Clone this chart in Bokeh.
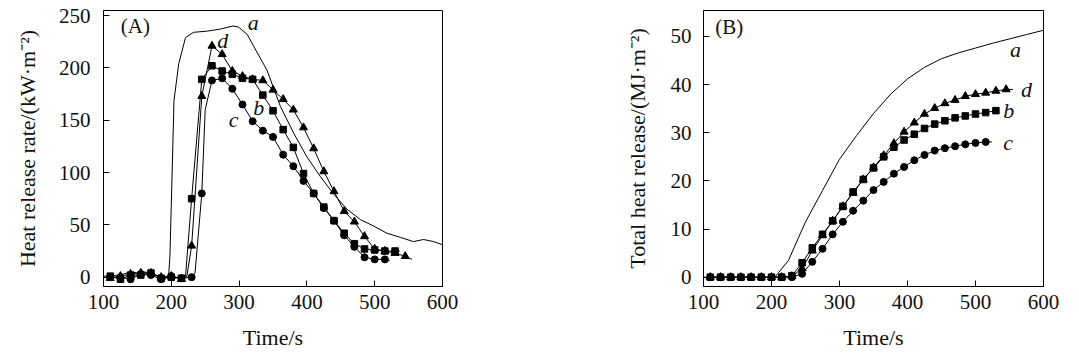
from bokeh.plotting import figure
from bokeh.layouts import row
from bokeh.models import FixedTicker, Range1d
from bokeh.core.properties import value
from bokeh.embed import file_html
from bokeh.resources import INLINE

FONT = "Liberation Serif"

# ---------------- Panel A: heat release rate (kW/m2) ----------------
hrr_a_t = [100, 110, 120, 130, 140, 150, 160, 170, 180, 190, 196, 198, 204, 211, 221, 233, 252, 272, 291, 299,
           312, 322, 341, 361, 381, 400, 420, 440, 459, 479, 498, 518, 538, 557, 572, 587, 600]
hrr_a_v = [1, 1, 2, 3, 5, 4, 5, 4, 1, 0, 1, 20, 169, 204, 229, 234, 235, 237, 240, 239,
           232, 220, 198, 163, 137, 115, 96, 79, 65, 55, 49, 42, 38, 34, 36, 34, 31]

hrr_b_t = [110, 125, 140, 155, 170, 185, 200, 215, 221, 230, 245, 260, 275, 290, 305, 320, 335, 350, 365, 380,
           395, 410, 425, 440, 455, 470, 485, 500, 515, 530, 537]
hrr_b_v = [1, -2, 2, 2, 4, -1, 0, -1, 1, 75, 189, 202, 197, 194, 190, 189, 174, 159, 141, 124,
           99, 80, 67, 54, 42, 32, 27, 26, 25, 25, 25]

hrr_c_t = [110, 125, 140, 155, 170, 185, 200, 215, 230, 235, 245, 250, 260, 275, 290, 305, 320, 335, 350, 365,
           380, 395, 410, 425, 440, 455, 470, 485, 500, 515, 522]
hrr_c_v = [0, 0, -2, 3, 2, -2, 1, -1, 0, 4, 80, 160, 188, 190, 180, 165, 149, 140, 134, 117,
           106, 92, 80, 66, 54, 40, 29, 19, 17, 17, 16]

hrr_d_t = [110, 125, 140, 155, 170, 185, 200, 215, 223, 230, 245, 260, 275, 290, 305, 320, 335, 350, 365, 380,
           395, 410, 425, 440, 455, 470, 485, 500, 515, 530, 545, 555]
hrr_d_v = [-1, 1, 3, 4, 4, 0, 1, -2, 1, 30, 173, 221, 213, 197, 192, 189, 188, 179, 170, 160,
           143, 123, 101, 82, 63, 53, 39, 27, 25, 23, 20, 17]

# ---------------- Panel B: total heat release (MJ/m2) ----------------
thr_a_t = [100, 205, 225, 250, 275, 300, 325, 350, 375, 400, 425, 450, 475, 500, 525, 550, 575, 600]
thr_a_v = [0, 0, 3.5, 11.5, 18, 24.5, 29.4, 34, 38, 41.2, 43.6, 45.4, 46.6, 47.6, 48.6, 49.5, 50.4, 51.3]

thr_b_t = [110, 125, 140, 155, 170, 185, 200, 215, 230, 245, 260, 275, 290, 305, 320, 335, 350, 365, 380,
           395, 410, 425, 440, 455, 470, 485, 500, 515, 530]
thr_b_v = [0, 0, 0, 0, 0, 0, 0, 0, 0.3, 3, 6.1, 8.9, 11.7, 14.7, 17.7, 20.3, 22.7, 25, 27,
           28.5, 29.7, 30.9, 31.8, 32.5, 33.1, 33.5, 33.9, 34.2, 34.6]

thr_c_t = [110, 125, 140, 155, 170, 185, 200, 215, 230, 245, 260, 275, 290, 305, 320, 335, 350, 365, 380,
           395, 410, 425, 440, 455, 470, 485, 500, 515, 524]
thr_c_v = [0, 0, 0, 0, 0, 0, 0, 0, 0, 0.7, 3.2, 5.9, 8.9, 11.5, 13.8, 15.9, 18.1, 19.8, 21.5,
           22.9, 24.3, 25.4, 26.3, 26.8, 27.2, 27.6, 27.9, 28.1, 28.1]

thr_d_t = [110, 125, 140, 155, 170, 185, 200, 215, 230, 245, 260, 275, 290, 305, 320, 335, 350, 365, 380,
           395, 410, 425, 440, 455, 470, 485, 500, 515, 530, 545, 555]
thr_d_v = [0, 0, 0, 0, 0, 0, 0, 0, 0.2, 1.8, 5.5, 8.7, 11.7, 14.7, 17.5, 20.3, 22.8, 25.3, 27.8,
           30.2, 32.1, 33.9, 35.1, 36.1, 36.8, 37.6, 38, 38.3, 38.7, 39, 39]

x_ticks = [100, 200, 300, 400, 500, 600]
hrr_ticks = [0, 50, 100, 150, 200, 250]
thr_ticks = [0, 10, 20, 30, 40, 50]

curve_names = ["a", "d", "b", "c"]
label_a_t = [321, 276, 329, 292]
label_a_v = [243, 226, 162, 151]
label_b_t = [559, 575, 549, 548]
label_b_v = [47.3, 38.9, 34.7, 27.9]


def marked(t, v):
    idx = [i for i, x in enumerate(t) if (x - 110) % 15 == 0]
    return [t[i] for i in idx], [v[i] for i in idx]


def make_fig(width, left, right, yr, yticks, ylabel, ylabel_standoff, tick_standoff):
    p = figure(width=width, height=353, output_backend="svg", toolbar_location=None,
               x_range=Range1d(100, 600), y_range=Range1d(*yr))
    p.min_border_left = left
    p.min_border_right = right
    p.min_border_top = 10
    p.min_border_bottom = 67
    p.outline_line_color = "black"
    p.outline_line_width = 1
    p.outline_line_alpha = 1
    p.grid.visible = False
    p.background_fill_color = "white"
    p.border_fill_color = "white"
    for ax, ticks in ((p.xaxis[0], x_ticks), (p.yaxis[0], yticks)):
        ax.ticker = FixedTicker(ticks=ticks)
        ax.major_tick_in = 6
        ax.major_tick_out = 0
        ax.minor_tick_line_color = None
        ax.axis_line_color = "black"
        ax.major_tick_line_color = "black"
        ax.major_label_text_font = FONT
        ax.major_label_text_font_size = "21px"
        ax.major_label_text_color = "#111111"
        ax.axis_label_text_font = FONT
        ax.axis_label_text_font_size = "22px"
        ax.axis_label_text_font_style = "normal"
        ax.axis_label_text_color = "#111111"
    p.xaxis[0].axis_label = "Time/s"
    p.xaxis[0].major_label_standoff = 8
    p.xaxis[0].axis_label_standoff = 13
    p.yaxis[0].axis_label = ylabel
    p.yaxis[0].major_label_standoff = tick_standoff
    p.yaxis[0].axis_label_standoff = ylabel_standoff
    return p


def draw(p, t, v, marker, size):
    p.line(t, v, line_color="black", line_width=1)
    if marker:
        mt, mv = marked(t, v)
        p.scatter(mt, mv, marker=marker, size=size, fill_color="black", line_color="black")


pA = make_fig(540, 103, 98, (-8.9, 254.8), hrr_ticks, "Heat release rate/(kW·m⁻²)", 16, 13)
draw(pA, hrr_a_t, hrr_a_v, None, 0)
draw(pA, hrr_b_t, hrr_b_v, "square", 6.5)
draw(pA, hrr_c_t, hrr_c_v, "circle", 7)
draw(pA, hrr_d_t, hrr_d_v, "triangle", 8)
pA.text(label_a_t, label_a_v, text=curve_names, text_font=value(FONT), text_font_style="italic",
        text_font_size="22px", text_align="center", text_baseline="middle", text_color="#111111")
pA.text([147], [240], text=["(A)"], text_font=value(FONT), text_font_size="21px",
        text_align="center", text_baseline="middle", text_color="#111111")

pB = make_fig(539, 163, 36, (-1.93, 55.4), thr_ticks, "Total heat release/(MJ·m⁻²)", 18, 12)
draw(pB, thr_a_t, thr_a_v, None, 0)
draw(pB, thr_b_t, thr_b_v, "square", 6.5)
draw(pB, thr_c_t, thr_c_v, "circle", 7)
draw(pB, thr_d_t, thr_d_v, "triangle", 8)
pB.text(label_b_t, label_b_v, text=curve_names, text_font=value(FONT), text_font_style="italic",
        text_font_size="22px", text_align="center", text_baseline="middle", text_color="#111111")
pB.text([138], [52], text=["(B)"], text_font=value(FONT), text_font_size="21px",
        text_align="center", text_baseline="middle", text_color="#111111")

layout = row(pA, pB)
open("out.html", "w", encoding="utf-8").write(file_html(layout, INLINE))
